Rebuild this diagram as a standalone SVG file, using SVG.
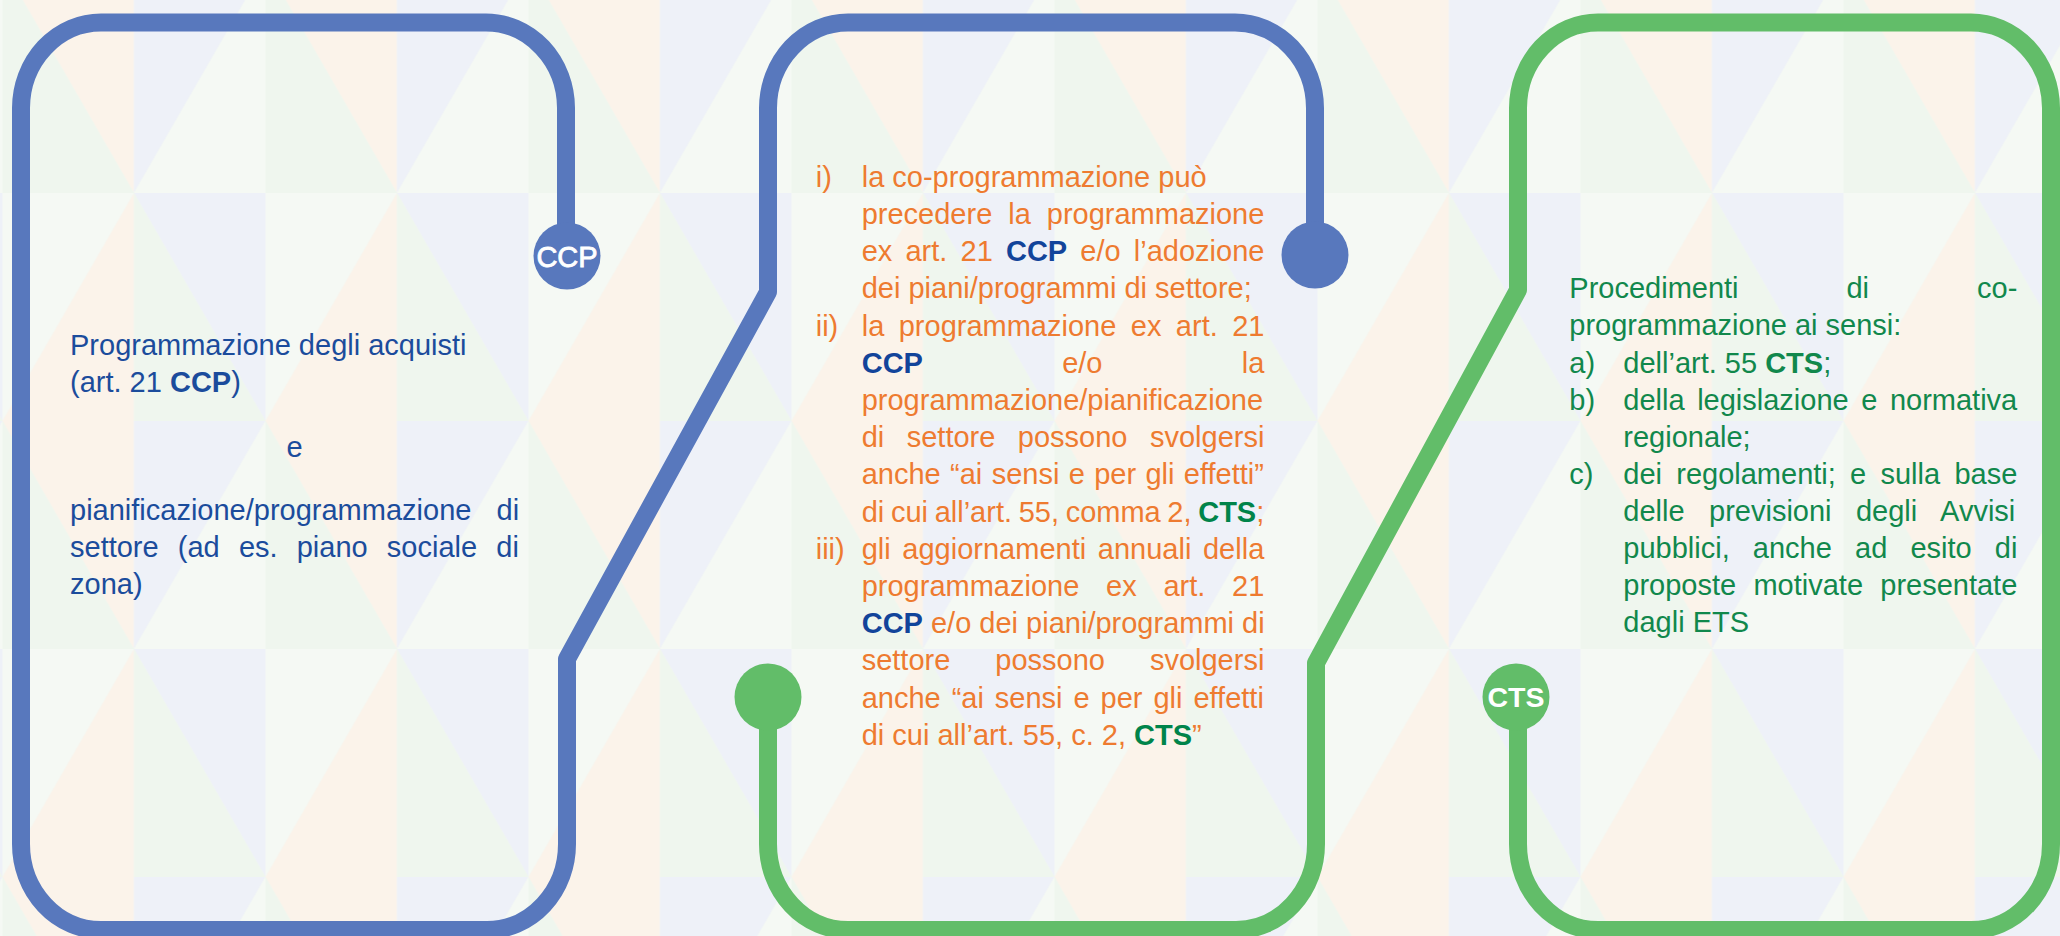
<svg xmlns="http://www.w3.org/2000/svg" width="2060" height="936" viewBox="0 0 2060 936">
<defs>
<style>
.t{font-family:"Liberation Sans",Arial,sans-serif;font-size:29px}
.blue{fill:#1b4c9c}
.org{fill:#ee7b30}
.grn{fill:#11884c}
.b{font-weight:bold}
.bccp{font-weight:bold;fill:#12449a}
.bcts{font-weight:bold;fill:#00844a}
.lineB{fill:none;stroke:#5878bd;stroke-width:18;stroke-linejoin:round}
.lineG{fill:none;stroke:#62bd69;stroke-width:18;stroke-linejoin:round}
.lbl{font-family:"Liberation Sans",Arial,sans-serif;fill:#ffffff}
</style>
<pattern id="bg" patternUnits="userSpaceOnUse" x="2.5" y="-35" width="263" height="456">
<rect width="263" height="456" fill="#f3f8f2"/>
<polygon points="0,0 131.5,0 131.5,228" fill="#fbf3ea"/>
<polygon points="0,0 0,228 131.5,228" fill="#eff6ee"/>
<polygon points="131.5,0 263,0 131.5,228" fill="#eef1f8"/>
<polygon points="263,0 263,228 131.5,228" fill="#f5f9f4"/>
<polygon points="0,228 131.5,228 0,456" fill="#f5f9f4"/>
<polygon points="131.5,228 131.5,456 0,456" fill="#fbf3ea"/>
<polygon points="131.5,228 263,228 263,456" fill="#eef1f8"/>
<polygon points="131.5,228 131.5,456 263,456" fill="#eff6ee"/>
</pattern>
</defs>
<rect width="2060" height="936" fill="url(#bg)"/>

<g id="connectors">
<path class="lineB" d="M566 255 L566 108 A80 86 0 0 0 486 22.5 L101 22.5 A80 86 0 0 0 21 108 L21 844 A80 86 0 0 0 101 930 L487 930 A80 86 0 0 0 567 844 L567 659 L768 292 L768 108 A80 86 0 0 1 848 22.5 L1235 22.5 A80 86 0 0 1 1315 108 L1315 255"/>
<path class="lineG" d="M768 697 L768 844 A80 86 0 0 0 848 930 L1236 930 A80 86 0 0 0 1316 844 L1316 663 L1518 290 L1518 108 A80 86 0 0 1 1598 22.5 L1971 22.5 A80 86 0 0 1 2051 108 L2051 844 A80 86 0 0 1 1971 930 L1598 930 A80 86 0 0 1 1518 844 L1518 697"/>
</g>

<g id="station-ccp">
<circle cx="567" cy="256" r="33.5" fill="#5878bd"/>
<text class="lbl" x="567" y="266.5" text-anchor="middle" font-size="29" stroke="#ffffff" stroke-width="0.8">CCP</text>
</g>
<g id="station-blue-end">
<circle cx="1315" cy="255" r="33.5" fill="#5878bd"/>
</g>
<g id="station-green-start">
<circle cx="768" cy="697" r="33.5" fill="#62bd69"/>
</g>
<g id="station-cts">
<circle cx="1516" cy="697" r="33.5" fill="#62bd69"/>
<text class="lbl" x="1516" y="707" text-anchor="middle" font-size="28.5" font-weight="bold">CTS</text>
</g>

<g id="node-1" class="t blue">
<text x="70" y="355">Programmazione degli acquisti</text>
<text x="70" y="391.7">(art. 21 <tspan class="b">CCP</tspan>)</text>
<text x="294.5" y="456.7" text-anchor="middle">e</text>
<text x="70" y="520" word-spacing="17.1">pianificazione/programmazione di</text>
<text x="70" y="557" word-spacing="11.1">settore (ad es. piano sociale di</text>
<text x="70" y="594">zona)</text>
</g>

<g id="node-2" class="t org">
<text x="815.7" y="186.7">i)</text>
<text x="861.7" y="186.7">la co-programmazione può</text>
<text x="861.7" y="223.9" word-spacing="7.9">precedere la programmazione</text>
<text x="861.7" y="261.1" word-spacing="5.1">ex art. 21 <tspan class="bccp">CCP</tspan> e/o l’adozione</text>
<text x="861.7" y="298.3">dei piani/programmi di settore;</text>
<text x="815.7" y="335.5">ii)</text>
<text x="861.7" y="335.5" word-spacing="6.4">la programmazione ex art. 21</text>
<text x="861.7" y="372.7" word-spacing="131.2"><tspan class="bccp">CCP</tspan> e/o la</text>
<text x="861.7" y="409.9">programmazione/pianificazione</text>
<text x="861.7" y="447.1" word-spacing="14.4">di settore possono svolgersi</text>
<text x="861.7" y="484.3" word-spacing="1.3">anche “ai sensi e per gli effetti”</text>
<text x="861.7" y="521.5" word-spacing="-1.4">di cui all’art. 55, comma 2, <tspan class="bcts">CTS</tspan>;</text>
<text x="815.7" y="558.7">iii)</text>
<text x="861.7" y="558.7" word-spacing="3.6">gli aggiornamenti annuali della</text>
<text x="861.7" y="595.9" word-spacing="18.7">programmazione ex art. 21</text>
<text x="861.7" y="633.1"><tspan class="bccp">CCP</tspan> e/o dei piani/programmi di</text>
<text x="861.7" y="670.3" word-spacing="36.9">settore possono svolgersi</text>
<text x="861.7" y="707.5" word-spacing="2.9">anche “ai sensi e per gli effetti</text>
<text x="861.7" y="744.7">di cui all’art. 55, c. 2, <tspan class="bcts">CTS</tspan>”</text>
</g>

<g id="node-3" class="t grn">
<text x="1569.3" y="298.3" word-spacing="99.9">Procedimenti di co-</text>
<text x="1569.3" y="335.4">programmazione ai sensi:</text>
<text x="1569.3" y="372.5">a)</text>
<text x="1623.3" y="372.5">dell’art. 55 <tspan class="b">CTS</tspan>;</text>
<text x="1569.3" y="409.6">b)</text>
<text x="1623.3" y="409.6" word-spacing="4.5">della legislazione e normativa</text>
<text x="1623.3" y="446.7">regionale;</text>
<text x="1569.3" y="483.8">c)</text>
<text x="1623.3" y="483.8" word-spacing="6.2">dei regolamenti; e sulla base</text>
<text x="1623.3" y="520.9" word-spacing="16.4">delle previsioni degli Avvisi</text>
<text x="1623.3" y="558" word-spacing="15.1">pubblici, anche ad esito di</text>
<text x="1623.3" y="595.1" word-spacing="9.2">proposte motivate presentate</text>
<text x="1623.3" y="632.2">dagli ETS</text>
</g>
</svg>
